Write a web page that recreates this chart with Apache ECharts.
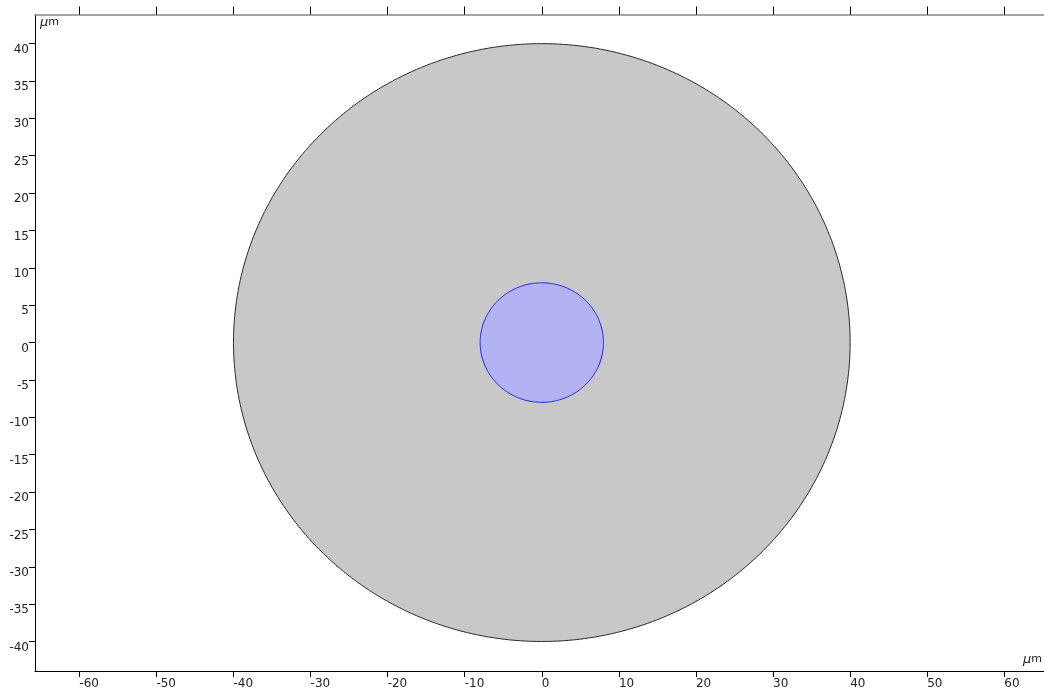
<!DOCTYPE html>
<html>
<head>
<meta charset="utf-8">
<script src="https://cdn.jsdelivr.net/npm/echarts@6/dist/echarts.min.js"></script>
<style>
  html, body { margin: 0; padding: 0; background: #fff; }
  #chart { width: 1044px; height: 693px; }
</style>
</head>
<body>
<div id="chart"></div>
<script>
// geometry: circle centres and radii (µm)
const circleNames = ['cladding', 'core'];
const circleCx = [0, 0];
const circleCy = [0, 0];
const circleR = [40, 8];
const circleFill = ['#c8c8c8', '#b3b3f3'];
const circleStroke = ['#2b2b2b', '#2020ee'];

// axis ranges and ticks
const xRange = [-65.75, 65.15];
const yRange = [-43.95, 43.9];
const xTicks = [-60, -50, -40, -30, -20, -10, 0, 10, 20, 30, 40, 50, 60];
const yTicks = [-40, -35, -30, -25, -20, -15, -10, -5, 0, 5, 10, 15, 20, 25, 30, 35, 40];

var myChart = echarts.init(document.getElementById('chart'), null, { renderer: 'canvas' });

const labelFont = { fontFamily: 'DejaVu Sans', fontSize: 12, color: '#222' };

// unit label: italic mu, upright m
const unitStyle = {
  text: '{mu|μ}{m|m}',
  rich: {
    mu: { fontFamily: 'DejaVu Sans', fontStyle: 'italic', fontSize: 13, fill: '#222' },
    m: { fontFamily: 'DejaVu Sans', fontSize: 11, fill: '#222' }
  }
};

const option = {
  animation: false,
  grid: { left: 35, right: 0, top: 14.5, bottom: 22, containLabel: false },
  xAxis: [
    {
      type: 'value',
      position: 'bottom',
      min: xRange[0],
      max: xRange[1],
      splitLine: { show: false },
      axisLine: { show: true, onZero: false, lineStyle: { color: '#000', width: 1 } },
      axisTick: { show: true, inside: false, length: 6, customValues: xTicks, lineStyle: { color: '#000' } },
      axisLabel: Object.assign({ customValues: xTicks, align: 'left', margin: 7, showMinLabel: true, showMaxLabel: true }, labelFont)
    },
    {
      type: 'value',
      position: 'top',
      min: xRange[0],
      max: xRange[1],
      splitLine: { show: false },
      axisLine: { show: true, onZero: false, lineStyle: { color: '#888', width: 1.5 } },
      axisTick: { show: true, inside: false, length: 8, customValues: xTicks, lineStyle: { color: '#000' } },
      axisLabel: { show: false }
    }
  ],
  yAxis: {
    type: 'value',
    min: yRange[0],
    max: yRange[1],
    splitLine: { show: false },
    axisLine: { show: true, onZero: false, lineStyle: { color: '#000', width: 1 } },
    axisTick: { show: true, inside: false, length: 6, customValues: yTicks, lineStyle: { color: '#000' } },
    axisLabel: Object.assign({ customValues: yTicks, margin: 6, verticalAlign: 'top', lineHeight: 12 }, labelFont)
  },
  graphic: [
    { type: 'text', left: 40, top: 16, style: unitStyle },
    { type: 'text', right: 2, top: 653, style: unitStyle }
  ],
  series: [
    {
      type: 'custom',
      coordinateSystem: 'cartesian2d',
      clip: true,
      data: circleNames.map((n, i) => [circleCx[i], circleCy[i], circleR[i], i]),
      renderItem(params, api) {
        const cx = api.value(0), cy = api.value(1), r = api.value(2), i = api.value(3);
        const pts = [];
        for (let k = 0; k < 360; k++) {
          const t = k * Math.PI / 180;
          pts.push(api.coord([cx + r * Math.cos(t), cy + r * Math.sin(t)]));
        }
        return {
          type: 'polygon',
          shape: { points: pts },
          style: { fill: circleFill[i], stroke: circleStroke[i], lineWidth: 1 }
        };
      }
    }
  ]
};

myChart.setOption(option);
</script>
</body>
</html>
